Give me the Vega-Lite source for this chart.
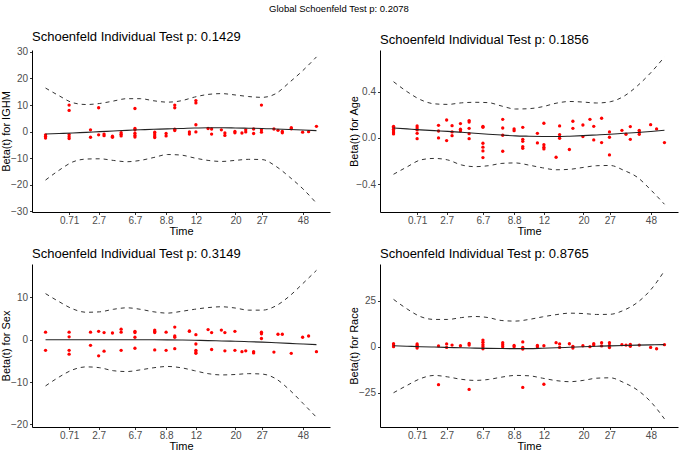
{
"$schema": "https://vega.github.io/schema/vega-lite/v6.json",
"padding": {"left": 0, "top": 4, "right": 2, "bottom": 2},
"title": {"text": "Global Schoenfeld Test p: 0.2078", "fontSize": 9.5, "anchor": "middle", "frame": "bounds", "offset": 17, "fontWeight": "normal", "color": "black"},
"config": {
 "font": "Liberation Sans",
 "view": {"stroke": null},
 "axis": {"grid": false, "domainColor": "black", "tickColor": "#333333", "labelColor": "#4d4d4d", "titleColor": "black", "labelFontSize": 10, "titleFontSize": 11, "titleFontWeight": "normal", "tickSize": 2.5, "domainWidth": 1, "labelPadding": 2, "labelOverlap": false},
 "axisY": {"minExtent": 18, "maxExtent": 18, "titlePadding": 3},
 "axisX": {"titlePadding": 0, "labelPadding": 1},
 "title": {"fontSize": 13, "fontWeight": "normal", "anchor": "start", "frame": "group", "offset": 3, "color": "black"}
},
"datasets": {
"curves": [
{"p":"IGHM","u":0,"hi":16.4,"lo":-18.2,"fit":-0.9},
{"p":"IGHM","u":5,"hi":13.5,"lo":-14.5,"fit":-0.7},
{"p":"IGHM","u":10,"hi":10.9,"lo":-11.4,"fit":-0.5},
{"p":"IGHM","u":15,"hi":10.2,"lo":-10.3,"fit":-0.25},
{"p":"IGHM","u":20,"hi":10.6,"lo":-10.2,"fit":0.0},
{"p":"IGHM","u":25,"hi":11.5,"lo":-10.8,"fit":0.25},
{"p":"IGHM","u":30,"hi":12.4,"lo":-11.3,"fit":0.5},
{"p":"IGHM","u":35,"hi":12.4,"lo":-10.8,"fit":0.7},
{"p":"IGHM","u":40,"hi":11.6,"lo":-9.7,"fit":0.9},
{"p":"IGHM","u":45,"hi":11.1,"lo":-8.6,"fit":1.05},
{"p":"IGHM","u":50,"hi":11.6,"lo":-8.8,"fit":1.2},
{"p":"IGHM","u":55,"hi":13.0,"lo":-9.9,"fit":1.4},
{"p":"IGHM","u":60,"hi":14.0,"lo":-10.8,"fit":1.5},
{"p":"IGHM","u":65,"hi":14.3,"lo":-11.2,"fit":1.45},
{"p":"IGHM","u":70,"hi":13.8,"lo":-10.8,"fit":1.4},
{"p":"IGHM","u":75,"hi":13.2,"lo":-10.4,"fit":1.3},
{"p":"IGHM","u":80,"hi":12.9,"lo":-10.5,"fit":1.2},
{"p":"IGHM","u":85,"hi":14.3,"lo":-13.0,"fit":1.0},
{"p":"IGHM","u":90,"hi":18.5,"lo":-17.0,"fit":0.8},
{"p":"IGHM","u":95,"hi":23.0,"lo":-21.5,"fit":0.6},
{"p":"IGHM","u":100,"hi":28.1,"lo":-26.9,"fit":0.4},
{"p":"Age","u":0,"hi":0.486,"lo":-0.314,"fit":0.086},
{"p":"Age","u":5,"hi":0.40,"lo":-0.25,"fit":0.078},
{"p":"Age","u":10,"hi":0.33,"lo":-0.19,"fit":0.07},
{"p":"Age","u":15,"hi":0.295,"lo":-0.177,"fit":0.063},
{"p":"Age","u":20,"hi":0.29,"lo":-0.19,"fit":0.057},
{"p":"Age","u":25,"hi":0.303,"lo":-0.233,"fit":0.049},
{"p":"Age","u":30,"hi":0.308,"lo":-0.248,"fit":0.04},
{"p":"Age","u":35,"hi":0.305,"lo":-0.24,"fit":0.032},
{"p":"Age","u":40,"hi":0.275,"lo":-0.22,"fit":0.025},
{"p":"Age","u":45,"hi":0.25,"lo":-0.216,"fit":0.018},
{"p":"Age","u":50,"hi":0.253,"lo":-0.235,"fit":0.015},
{"p":"Age","u":55,"hi":0.27,"lo":-0.258,"fit":0.013},
{"p":"Age","u":60,"hi":0.30,"lo":-0.275,"fit":0.012},
{"p":"Age","u":65,"hi":0.315,"lo":-0.271,"fit":0.015},
{"p":"Age","u":70,"hi":0.31,"lo":-0.255,"fit":0.02},
{"p":"Age","u":75,"hi":0.302,"lo":-0.24,"fit":0.026},
{"p":"Age","u":80,"hi":0.313,"lo":-0.238,"fit":0.032},
{"p":"Age","u":85,"hi":0.36,"lo":-0.28,"fit":0.04},
{"p":"Age","u":90,"hi":0.45,"lo":-0.34,"fit":0.047},
{"p":"Age","u":95,"hi":0.565,"lo":-0.45,"fit":0.056},
{"p":"Age","u":100,"hi":0.70,"lo":-0.573,"fit":0.066},
{"p":"Sex","u":0,"hi":10.9,"lo":-10.9,"fit":0},
{"p":"Sex","u":5,"hi":9.0,"lo":-8.8,"fit":0},
{"p":"Sex","u":10,"hi":7.3,"lo":-7.1,"fit":0},
{"p":"Sex","u":15,"hi":6.5,"lo":-6.4,"fit":0},
{"p":"Sex","u":20,"hi":6.6,"lo":-6.6,"fit":0},
{"p":"Sex","u":25,"hi":7.2,"lo":-7.3,"fit":0},
{"p":"Sex","u":30,"hi":7.55,"lo":-7.5,"fit":0},
{"p":"Sex","u":35,"hi":7.2,"lo":-7.1,"fit":0},
{"p":"Sex","u":40,"hi":6.6,"lo":-6.6,"fit":0},
{"p":"Sex","u":45,"hi":6.3,"lo":-6.3,"fit":-0.02},
{"p":"Sex","u":50,"hi":6.7,"lo":-6.6,"fit":-0.05},
{"p":"Sex","u":55,"hi":7.2,"lo":-7.3,"fit":-0.1},
{"p":"Sex","u":60,"hi":7.6,"lo":-8.0,"fit":-0.2},
{"p":"Sex","u":65,"hi":7.8,"lo":-8.3,"fit":-0.27},
{"p":"Sex","u":70,"hi":7.5,"lo":-8.2,"fit":-0.35},
{"p":"Sex","u":75,"hi":7.0,"lo":-8.0,"fit":-0.45},
{"p":"Sex","u":80,"hi":7.0,"lo":-8.1,"fit":-0.55},
{"p":"Sex","u":85,"hi":8.0,"lo":-9.2,"fit":-0.7},
{"p":"Sex","u":90,"hi":10.3,"lo":-11.8,"fit":-0.85},
{"p":"Sex","u":95,"hi":13.3,"lo":-15.0,"fit":-1.0},
{"p":"Sex","u":100,"hi":16.4,"lo":-18.3,"fit":-1.15},
{"p":"Race","u":0,"hi":25.7,"lo":-25,"fit":0.5},
{"p":"Race","u":5,"hi":20.5,"lo":-21,"fit":0.25},
{"p":"Race","u":10,"hi":16.3,"lo":-17.3,"fit":0},
{"p":"Race","u":15,"hi":14.8,"lo":-15.6,"fit":-0.2},
{"p":"Race","u":20,"hi":14.8,"lo":-16.4,"fit":-0.4},
{"p":"Race","u":25,"hi":15.8,"lo":-17.7,"fit":-0.6},
{"p":"Race","u":30,"hi":16.4,"lo":-18.3,"fit":-0.75},
{"p":"Race","u":35,"hi":15.8,"lo":-17.8,"fit":-0.9},
{"p":"Race","u":40,"hi":14.2,"lo":-16.5,"fit":-1.0},
{"p":"Race","u":45,"hi":13.9,"lo":-15.6,"fit":-1.05},
{"p":"Race","u":50,"hi":14.8,"lo":-15.8,"fit":-1.05},
{"p":"Race","u":55,"hi":16.2,"lo":-17.1,"fit":-0.85},
{"p":"Race","u":60,"hi":17.4,"lo":-18.4,"fit":-0.6},
{"p":"Race","u":65,"hi":18.2,"lo":-19,"fit":-0.3},
{"p":"Race","u":70,"hi":18.0,"lo":-18.3,"fit":0},
{"p":"Race","u":75,"hi":17.5,"lo":-17.1,"fit":0.25},
{"p":"Race","u":80,"hi":17.6,"lo":-16.9,"fit":0.45},
{"p":"Race","u":85,"hi":19.8,"lo":-19.5,"fit":0.65},
{"p":"Race","u":90,"hi":24,"lo":-23.5,"fit":0.85},
{"p":"Race","u":95,"hi":31,"lo":-30,"fit":1.0},
{"p":"Race","u":100,"hi":41.2,"lo":-39.2,"fit":1.1}
],
"pts": [
{"p":"IGHM","u":0,"b":-1.2},{"p":"IGHM","u":0,"b":-1.8},{"p":"IGHM","u":0,"b":-2.4},
{"p":"IGHM","u":8.7,"b":10.0},{"p":"IGHM","u":8.7,"b":8.0},{"p":"IGHM","u":8.7,"b":-1.1},{"p":"IGHM","u":8.7,"b":-1.9},{"p":"IGHM","u":8.7,"b":-2.6},
{"p":"IGHM","u":16.6,"b":0.7},{"p":"IGHM","u":16.6,"b":-2.1},
{"p":"IGHM","u":19.6,"b":9.0},{"p":"IGHM","u":19.6,"b":-1.2},
{"p":"IGHM","u":21.6,"b":-0.9},{"p":"IGHM","u":21.6,"b":-1.5},
{"p":"IGHM","u":24.7,"b":-1.7},{"p":"IGHM","u":24.7,"b":-2.1},
{"p":"IGHM","u":27.9,"b":-0.4},{"p":"IGHM","u":27.9,"b":-1.0},{"p":"IGHM","u":27.9,"b":-1.6},
{"p":"IGHM","u":33.0,"b":8.7},{"p":"IGHM","u":33.0,"b":1.2},{"p":"IGHM","u":33.0,"b":0.7},{"p":"IGHM","u":33.0,"b":-0.6},{"p":"IGHM","u":33.0,"b":-1.4},{"p":"IGHM","u":33.0,"b":-2.0},
{"p":"IGHM","u":40.3,"b":-0.2},{"p":"IGHM","u":40.3,"b":-0.9},{"p":"IGHM","u":40.3,"b":-1.6},{"p":"IGHM","u":40.3,"b":-2.2},
{"p":"IGHM","u":44.5,"b":-0.7},{"p":"IGHM","u":44.5,"b":-1.6},
{"p":"IGHM","u":47.7,"b":10.0},{"p":"IGHM","u":47.7,"b":9.0},{"p":"IGHM","u":47.7,"b":0.9},{"p":"IGHM","u":47.7,"b":0.4},
{"p":"IGHM","u":53.1,"b":-0.1},{"p":"IGHM","u":53.1,"b":-0.9},
{"p":"IGHM","u":55.5,"b":11.7},{"p":"IGHM","u":55.5,"b":10.8},{"p":"IGHM","u":55.5,"b":2.6},{"p":"IGHM","u":55.5,"b":-0.1},
{"p":"IGHM","u":60.0,"b":1.2},
{"p":"IGHM","u":61.3,"b":1.0},{"p":"IGHM","u":61.3,"b":-0.9},
{"p":"IGHM","u":64.9,"b":0.7},
{"p":"IGHM","u":66.2,"b":-0.5},{"p":"IGHM","u":66.2,"b":-1.4},
{"p":"IGHM","u":69.9,"b":0.1},{"p":"IGHM","u":69.9,"b":-0.4},
{"p":"IGHM","u":72.5,"b":-0.5},
{"p":"IGHM","u":73.9,"b":0.7},{"p":"IGHM","u":73.9,"b":-0.1},
{"p":"IGHM","u":76.8,"b":1.0},{"p":"IGHM","u":76.8,"b":-0.7},
{"p":"IGHM","u":79.7,"b":10.0},{"p":"IGHM","u":79.7,"b":0.7},{"p":"IGHM","u":79.7,"b":-0.2},
{"p":"IGHM","u":84.3,"b":1.0},
{"p":"IGHM","u":85.8,"b":0.5},
{"p":"IGHM","u":87.4,"b":0.1},{"p":"IGHM","u":87.4,"b":-0.4},
{"p":"IGHM","u":90.7,"b":1.5},{"p":"IGHM","u":90.7,"b":1.1},
{"p":"IGHM","u":94.9,"b":-0.2},
{"p":"IGHM","u":97.1,"b":0.0},
{"p":"IGHM","u":100,"b":2.0},

{"p":"Age","u":0,"b":0.10},{"p":"Age","u":0,"b":0.09},{"p":"Age","u":0,"b":0.075},{"p":"Age","u":0,"b":0.06},{"p":"Age","u":0,"b":0.045},{"p":"Age","u":0,"b":0.035},
{"p":"Age","u":8.7,"b":0.104},{"p":"Age","u":8.7,"b":0.086},{"p":"Age","u":8.7,"b":0.069},{"p":"Age","u":8.7,"b":0.04},{"p":"Age","u":8.7,"b":-0.006},
{"p":"Age","u":16.6,"b":0.109},{"p":"Age","u":16.6,"b":0.06},{"p":"Age","u":16.6,"b":0.0},
{"p":"Age","u":19.6,"b":0.155},{"p":"Age","u":19.6,"b":-0.023},
{"p":"Age","u":21.6,"b":0.106},{"p":"Age","u":21.6,"b":0.052},{"p":"Age","u":21.6,"b":0.02},
{"p":"Age","u":24.7,"b":0.124},{"p":"Age","u":24.7,"b":0.075},{"p":"Age","u":24.7,"b":0.06},
{"p":"Age","u":27.9,"b":0.15},{"p":"Age","u":27.9,"b":0.138},{"p":"Age","u":27.9,"b":0.083},{"p":"Age","u":27.9,"b":0.037},{"p":"Age","u":27.9,"b":-0.006},
{"p":"Age","u":33.0,"b":0.10},{"p":"Age","u":33.0,"b":0.092},{"p":"Age","u":33.0,"b":-0.046},{"p":"Age","u":33.0,"b":-0.08},{"p":"Age","u":33.0,"b":-0.112},{"p":"Age","u":33.0,"b":-0.17},
{"p":"Age","u":40.3,"b":0.161},{"p":"Age","u":40.3,"b":0.086},{"p":"Age","u":40.3,"b":0.023},{"p":"Age","u":40.3,"b":-0.115},
{"p":"Age","u":44.5,"b":0.078},{"p":"Age","u":44.5,"b":0.063},
{"p":"Age","u":47.7,"b":0.092},{"p":"Age","u":47.7,"b":-0.012},{"p":"Age","u":47.7,"b":-0.029},{"p":"Age","u":47.7,"b":-0.075},{"p":"Age","u":47.7,"b":-0.089},
{"p":"Age","u":53.1,"b":0.04},{"p":"Age","u":53.1,"b":-0.043},
{"p":"Age","u":55.5,"b":0.127},{"p":"Age","u":55.5,"b":-0.058},{"p":"Age","u":55.5,"b":-0.08},{"p":"Age","u":55.5,"b":-0.095},
{"p":"Age","u":60.0,"b":-0.167},
{"p":"Age","u":61.3,"b":0.104},{"p":"Age","u":61.3,"b":0.029},{"p":"Age","u":61.3,"b":0.012},{"p":"Age","u":61.3,"b":-0.003},
{"p":"Age","u":64.9,"b":-0.1},
{"p":"Age","u":66.2,"b":0.144},{"p":"Age","u":66.2,"b":0.083},
{"p":"Age","u":69.9,"b":0.112},{"p":"Age","u":69.9,"b":0.012},
{"p":"Age","u":72.5,"b":0.161},
{"p":"Age","u":73.9,"b":0.1},{"p":"Age","u":73.9,"b":-0.017},
{"p":"Age","u":76.8,"b":0.17},{"p":"Age","u":76.8,"b":-0.04},
{"p":"Age","u":79.7,"b":0.052},{"p":"Age","u":79.7,"b":0.006},{"p":"Age","u":79.7,"b":-0.147},
{"p":"Age","u":84.3,"b":0.066},
{"p":"Age","u":85.8,"b":0.032},
{"p":"Age","u":87.4,"b":0.098},{"p":"Age","u":87.4,"b":-0.012},
{"p":"Age","u":90.7,"b":0.066},{"p":"Age","u":90.7,"b":0.05},{"p":"Age","u":90.7,"b":0.032},
{"p":"Age","u":94.9,"b":0.115},
{"p":"Age","u":97.1,"b":0.078},
{"p":"Age","u":100,"b":-0.04},

{"p":"Sex","u":0,"b":1.8},{"p":"Sex","u":0,"b":-2.5},
{"p":"Sex","u":8.7,"b":1.8},{"p":"Sex","u":8.7,"b":0.7},{"p":"Sex","u":8.7,"b":-2.5},{"p":"Sex","u":8.7,"b":-3.4},
{"p":"Sex","u":16.6,"b":1.8},{"p":"Sex","u":16.6,"b":-1.3},
{"p":"Sex","u":19.6,"b":2.0},{"p":"Sex","u":19.6,"b":-3.8},
{"p":"Sex","u":21.6,"b":1.7},{"p":"Sex","u":21.6,"b":-2.7},
{"p":"Sex","u":24.7,"b":1.6},
{"p":"Sex","u":27.9,"b":2.5},{"p":"Sex","u":27.9,"b":1.8},{"p":"Sex","u":27.9,"b":-2.5},
{"p":"Sex","u":33.0,"b":2.0},{"p":"Sex","u":33.0,"b":1.7},{"p":"Sex","u":33.0,"b":0.6},{"p":"Sex","u":33.0,"b":-2.0},
{"p":"Sex","u":40.3,"b":2.3},{"p":"Sex","u":40.3,"b":2.0},{"p":"Sex","u":40.3,"b":1.7},{"p":"Sex","u":40.3,"b":-2.4},
{"p":"Sex","u":44.5,"b":1.8},{"p":"Sex","u":44.5,"b":-2.5},
{"p":"Sex","u":47.7,"b":3.0},{"p":"Sex","u":47.7,"b":0.9},{"p":"Sex","u":47.7,"b":0.6},{"p":"Sex","u":47.7,"b":-2.1},
{"p":"Sex","u":53.1,"b":2.1},{"p":"Sex","u":53.1,"b":2.0},
{"p":"Sex","u":55.5,"b":1.2},{"p":"Sex","u":55.5,"b":-1.0},{"p":"Sex","u":55.5,"b":-2.5},{"p":"Sex","u":55.5,"b":-2.9},{"p":"Sex","u":55.5,"b":-3.2},
{"p":"Sex","u":60.0,"b":2.4},
{"p":"Sex","u":61.3,"b":1.7},{"p":"Sex","u":61.3,"b":-2.3},
{"p":"Sex","u":64.9,"b":2.3},
{"p":"Sex","u":66.2,"b":1.7},{"p":"Sex","u":66.2,"b":-2.6},
{"p":"Sex","u":69.9,"b":2.0},{"p":"Sex","u":69.9,"b":-2.5},
{"p":"Sex","u":72.5,"b":-2.8},
{"p":"Sex","u":73.9,"b":-2.6},
{"p":"Sex","u":76.8,"b":-2.8},{"p":"Sex","u":76.8,"b":-3.1},
{"p":"Sex","u":79.7,"b":1.8},{"p":"Sex","u":79.7,"b":1.4},{"p":"Sex","u":79.7,"b":0.3},
{"p":"Sex","u":84.3,"b":-2.9},
{"p":"Sex","u":85.8,"b":1.3},
{"p":"Sex","u":87.4,"b":1.3},
{"p":"Sex","u":90.7,"b":-3.2},
{"p":"Sex","u":94.9,"b":0.6},
{"p":"Sex","u":97.1,"b":0.9},
{"p":"Sex","u":100,"b":-2.8},

{"p":"Race","u":0,"b":1.6},{"p":"Race","u":0,"b":0.9},{"p":"Race","u":0,"b":0.0},
{"p":"Race","u":8.7,"b":1.5},{"p":"Race","u":8.7,"b":0.7},{"p":"Race","u":8.7,"b":0.0},{"p":"Race","u":8.7,"b":-0.7},
{"p":"Race","u":16.6,"b":0.4},{"p":"Race","u":16.6,"b":-20.6},
{"p":"Race","u":19.6,"b":1.5},{"p":"Race","u":19.6,"b":-0.4},
{"p":"Race","u":21.6,"b":0.9},
{"p":"Race","u":24.7,"b":0.5},
{"p":"Race","u":27.9,"b":1.8},{"p":"Race","u":27.9,"b":0.9},{"p":"Race","u":27.9,"b":-23.2},
{"p":"Race","u":33.0,"b":3.6},{"p":"Race","u":33.0,"b":2.4},{"p":"Race","u":33.0,"b":1.1},{"p":"Race","u":33.0,"b":0.0},{"p":"Race","u":33.0,"b":-1.1},
{"p":"Race","u":40.3,"b":2.2},{"p":"Race","u":40.3,"b":1.1},{"p":"Race","u":40.3,"b":0.0},
{"p":"Race","u":44.5,"b":0.7},{"p":"Race","u":44.5,"b":0.0},
{"p":"Race","u":47.7,"b":2.6},{"p":"Race","u":47.7,"b":-0.4},{"p":"Race","u":47.7,"b":-1.3},{"p":"Race","u":47.7,"b":-22.1},
{"p":"Race","u":53.1,"b":0.7},{"p":"Race","u":53.1,"b":0.0},
{"p":"Race","u":55.5,"b":0.5},{"p":"Race","u":55.5,"b":-20.4},
{"p":"Race","u":60.0,"b":2.2},
{"p":"Race","u":61.3,"b":1.5},{"p":"Race","u":61.3,"b":-0.4},
{"p":"Race","u":64.9,"b":1.6},
{"p":"Race","u":66.2,"b":0.2},{"p":"Race","u":66.2,"b":-0.7},
{"p":"Race","u":69.9,"b":0.5},
{"p":"Race","u":72.5,"b":0.0},
{"p":"Race","u":73.9,"b":1.6},{"p":"Race","u":73.9,"b":0.9},
{"p":"Race","u":76.8,"b":2.2},{"p":"Race","u":76.8,"b":0.4},
{"p":"Race","u":79.7,"b":2.2},{"p":"Race","u":79.7,"b":0.7},{"p":"Race","u":79.7,"b":-0.5},
{"p":"Race","u":84.3,"b":1.1},
{"p":"Race","u":85.8,"b":0.9},
{"p":"Race","u":87.4,"b":1.3},{"p":"Race","u":87.4,"b":0.2},
{"p":"Race","u":90.7,"b":0.9},
{"p":"Race","u":94.9,"b":-0.4},
{"p":"Race","u":97.1,"b":-1.1},
{"p":"Race","u":100,"b":1.1}
]
},
"columns": 2,
"spacing": {"row": 11, "column": 18},
"concat": [
{
 "width": 298, "height": 162,
 "title": "Schoenfeld Individual Test p: 0.1429",
 "layer": [
  {"data": {"name": "curves"}, "transform": [{"filter": "datum.p == 'IGHM'"}],
   "mark": {"type": "line", "color": "#333333", "strokeDash": [4, 4], "strokeWidth": 1, "interpolate": "monotone"},
   "encoding": {
    "x": {"field": "u", "type": "quantitative", "scale": {"domain": [-5, 105], "nice": false, "zero": false},
     "axis": {"title": "Time", "values": [8.7, 19.6, 33, 44.5, 55.5, 70.1, 79.8, 95], "labelExpr": "['0.71','2.7','6.7','8.8','12','20','27','48'][indexof([8.7,19.6,33,44.5,55.5,70.1,79.8,95], datum.value)]"}},
    "y": {"field": "hi", "type": "quantitative", "scale": {"domain": [-30.2, 30.7], "nice": false, "zero": false},
     "axis": {"title": "Beta(t) for IGHM", "values": [-30, -20, -10, 0, 10, 20, 30], "labelOverlap": false, "tickCount": 7}}}},
  {"data": {"name": "curves"}, "transform": [{"filter": "datum.p == 'IGHM'"}],
   "mark": {"type": "line", "color": "#333333", "strokeDash": [4, 4], "strokeWidth": 1, "interpolate": "monotone"},
   "encoding": {"x": {"field": "u", "type": "quantitative"}, "y": {"field": "lo", "type": "quantitative", "title": "Beta(t) for IGHM"}}},
  {"data": {"name": "pts"}, "transform": [{"filter": "datum.p == 'IGHM'"}],
   "mark": {"type": "circle", "color": "#FF0000", "opacity": 1, "size": 11},
   "encoding": {"x": {"field": "u", "type": "quantitative"}, "y": {"field": "b", "type": "quantitative", "title": "Beta(t) for IGHM"}}},
  {"data": {"name": "curves"}, "transform": [{"filter": "datum.p == 'IGHM'"}],
   "mark": {"type": "line", "color": "#222222", "strokeWidth": 1.1, "interpolate": "monotone"},
   "encoding": {"x": {"field": "u", "type": "quantitative"}, "y": {"field": "fit", "type": "quantitative", "title": "Beta(t) for IGHM"}}}
 ]
},
{
 "width": 298, "height": 162,
 "title": "Schoenfeld Individual Test p: 0.1856",
 "layer": [
  {"data": {"name": "curves"}, "transform": [{"filter": "datum.p == 'Age'"}],
   "mark": {"type": "line", "color": "#333333", "strokeDash": [4, 4], "strokeWidth": 1, "interpolate": "monotone"},
   "encoding": {
    "x": {"field": "u", "type": "quantitative", "scale": {"domain": [-5, 105], "nice": false, "zero": false},
     "axis": {"title": "Time", "values": [8.7, 19.6, 33, 44.5, 55.5, 70.1, 79.8, 95], "labelExpr": "['0.71','2.7','6.7','8.8','12','20','27','48'][indexof([8.7,19.6,33,44.5,55.5,70.1,79.8,95], datum.value)]"}},
    "y": {"field": "hi", "type": "quantitative", "scale": {"domain": [-0.64, 0.76], "nice": false, "zero": false},
     "axis": {"title": "Beta(t) for Age", "values": [-0.4, 0, 0.4], "format": ".1f"}}}},
  {"data": {"name": "curves"}, "transform": [{"filter": "datum.p == 'Age'"}],
   "mark": {"type": "line", "color": "#333333", "strokeDash": [4, 4], "strokeWidth": 1, "interpolate": "monotone"},
   "encoding": {"x": {"field": "u", "type": "quantitative"}, "y": {"field": "lo", "type": "quantitative", "title": "Beta(t) for Age"}}},
  {"data": {"name": "pts"}, "transform": [{"filter": "datum.p == 'Age'"}],
   "mark": {"type": "circle", "color": "#FF0000", "opacity": 1, "size": 11},
   "encoding": {"x": {"field": "u", "type": "quantitative"}, "y": {"field": "b", "type": "quantitative", "title": "Beta(t) for Age"}}},
  {"data": {"name": "curves"}, "transform": [{"filter": "datum.p == 'Age'"}],
   "mark": {"type": "line", "color": "#222222", "strokeWidth": 1.1, "interpolate": "monotone"},
   "encoding": {"x": {"field": "u", "type": "quantitative"}, "y": {"field": "fit", "type": "quantitative", "title": "Beta(t) for Age"}}}
 ]
},
{
 "width": 298, "height": 163,
 "title": "Schoenfeld Individual Test p: 0.3149",
 "layer": [
  {"data": {"name": "curves"}, "transform": [{"filter": "datum.p == 'Sex'"}],
   "mark": {"type": "line", "color": "#333333", "strokeDash": [4, 4], "strokeWidth": 1, "interpolate": "monotone"},
   "encoding": {
    "x": {"field": "u", "type": "quantitative", "scale": {"domain": [-5, 105], "nice": false, "zero": false},
     "axis": {"title": "Time", "values": [8.7, 19.6, 33, 44.5, 55.5, 70.1, 79.8, 95], "labelExpr": "['0.71','2.7','6.7','8.8','12','20','27','48'][indexof([8.7,19.6,33,44.5,55.5,70.1,79.8,95], datum.value)]"}},
    "y": {"field": "hi", "type": "quantitative", "scale": {"domain": [-20.6, 17.9], "nice": false, "zero": false},
     "axis": {"title": "Beta(t) for Sex", "values": [-20, -10, 0, 10]}}}},
  {"data": {"name": "curves"}, "transform": [{"filter": "datum.p == 'Sex'"}],
   "mark": {"type": "line", "color": "#333333", "strokeDash": [4, 4], "strokeWidth": 1, "interpolate": "monotone"},
   "encoding": {"x": {"field": "u", "type": "quantitative"}, "y": {"field": "lo", "type": "quantitative", "title": "Beta(t) for Sex"}}},
  {"data": {"name": "pts"}, "transform": [{"filter": "datum.p == 'Sex'"}],
   "mark": {"type": "circle", "color": "#FF0000", "opacity": 1, "size": 11},
   "encoding": {"x": {"field": "u", "type": "quantitative"}, "y": {"field": "b", "type": "quantitative", "title": "Beta(t) for Sex"}}},
  {"data": {"name": "curves"}, "transform": [{"filter": "datum.p == 'Sex'"}],
   "mark": {"type": "line", "color": "#222222", "strokeWidth": 1.1, "interpolate": "monotone"},
   "encoding": {"x": {"field": "u", "type": "quantitative"}, "y": {"field": "fit", "type": "quantitative", "title": "Beta(t) for Sex"}}}
 ]
},
{
 "width": 298, "height": 163,
 "title": "Schoenfeld Individual Test p: 0.8765",
 "layer": [
  {"data": {"name": "curves"}, "transform": [{"filter": "datum.p == 'Race'"}],
   "mark": {"type": "line", "color": "#333333", "strokeDash": [4, 4], "strokeWidth": 1, "interpolate": "monotone"},
   "encoding": {
    "x": {"field": "u", "type": "quantitative", "scale": {"domain": [-5, 105], "nice": false, "zero": false},
     "axis": {"title": "Time", "values": [8.7, 19.6, 33, 44.5, 55.5, 70.1, 79.8, 95], "labelExpr": "['0.71','2.7','6.7','8.8','12','20','27','48'][indexof([8.7,19.6,33,44.5,55.5,70.1,79.8,95], datum.value)]"}},
    "y": {"field": "hi", "type": "quantitative", "scale": {"domain": [-43.6, 44.9], "nice": false, "zero": false},
     "axis": {"title": "Beta(t) for Race", "values": [-25, 0, 25]}}}},
  {"data": {"name": "curves"}, "transform": [{"filter": "datum.p == 'Race'"}],
   "mark": {"type": "line", "color": "#333333", "strokeDash": [4, 4], "strokeWidth": 1, "interpolate": "monotone"},
   "encoding": {"x": {"field": "u", "type": "quantitative"}, "y": {"field": "lo", "type": "quantitative", "title": "Beta(t) for Race"}}},
  {"data": {"name": "pts"}, "transform": [{"filter": "datum.p == 'Race'"}],
   "mark": {"type": "circle", "color": "#FF0000", "opacity": 1, "size": 11},
   "encoding": {"x": {"field": "u", "type": "quantitative"}, "y": {"field": "b", "type": "quantitative", "title": "Beta(t) for Race"}}},
  {"data": {"name": "curves"}, "transform": [{"filter": "datum.p == 'Race'"}],
   "mark": {"type": "line", "color": "#222222", "strokeWidth": 1.1, "interpolate": "monotone"},
   "encoding": {"x": {"field": "u", "type": "quantitative"}, "y": {"field": "fit", "type": "quantitative", "title": "Beta(t) for Race"}}}
 ]
}
]
}
